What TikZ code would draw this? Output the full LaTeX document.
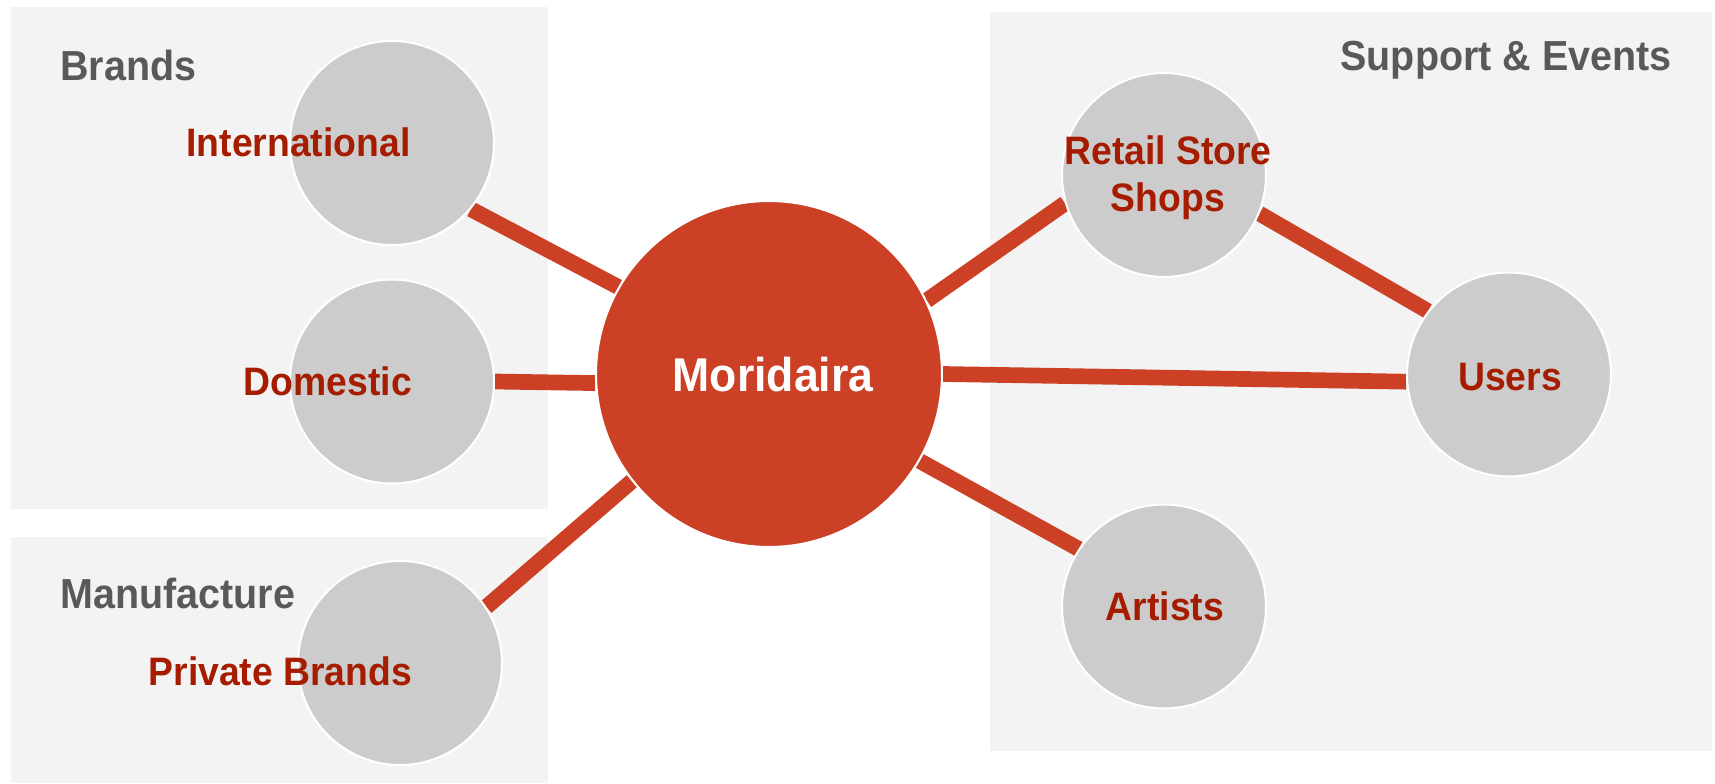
\documentclass[tikz,border=0pt]{standalone}
\usepackage{fontspec}
\setmainfont{Liberation Sans}[FakeStretch=0.94]
\usepackage{tikz}
\usetikzlibrary{calc}
\usepackage{color}
\definecolor{panelgray}{RGB}{243, 243, 243}
\definecolor{bubblegray}{RGB}{204, 204, 204}
\definecolor{moridairared}{RGB}{204, 65, 37}
\definecolor{labelred}{RGB}{166, 28, 0}
\definecolor{headgray}{RGB}{89, 89, 89}
\pgfdeclarelayer{panels}
\pgfdeclarelayer{links}
\pgfsetlayers{panels,links,main}

\begin{document}
\begin{tikzpicture}[x=0.02cm, y=-0.02cm,
        panel/.style={fill=panelgray, draw=none},
        bubble/.style={circle, fill=bubblegray, draw=white, line width=0.04cm, minimum size=4.08cm, inner sep=0pt},
        hub/.style={circle, fill=moridairared, draw=white, line width=0.04cm, minimum size=6.92cm, inner sep=0pt},
        link/.style={moridairared, line width=0.314cm},
        heading/.style={inner sep=0pt, text=headgray, font=\fontsize{23.9}{28}\selectfont\bfseries},
        tag/.style={anchor=base, inner sep=0pt, text=labelred, align=center, font=\fontsize{22.6}{27}\selectfont\bfseries}]
            % Frame to fix the page size
            \useasboundingbox                                                 (0, 0) rectangle (1715, 784);
            % Panels
            \begin{pgfonlayer}{panels}
            \fill[panel]                                                      (11, 7) rectangle (548, 509);
            \fill[panel]                                                      (11, 537) rectangle (548, 783);
            \fill[panel]                                                      (990, 12) rectangle (1712, 751);
            \end{pgfonlayer}
            \node[heading, anchor=base west] (brandshead)                     at (60, 81) {Brands};
            \node[heading, anchor=base west] (manuhead)                       at (60, 608.3) {Manufacture};
            \node[heading, anchor=base east] (supporthead)                    at (1672, 71) {Support \& Events};
            % Bubbles
            \node[bubble] (intl)                                              at (392, 143) {};
            \node[bubble] (dom)                                               at (392, 381.5) {};
            \node[bubble] (priv)                                              at (400, 663) {};
            \node[hub]    (mor)                                               at (769, 374) {};
            \node[bubble] (retail)                                            at (1164, 175) {};
            \node[bubble] (users)                                             at (1509, 374.5) {};
            \node[bubble] (artists)                                           at (1164, 606.5) {};
            % Labels
            \node[tag] (intltext)                                             at (298.5, 156.7) {International};
            \node[tag] (domtext)                                              at (328, 395) {Domestic};
            \node[tag] (privtext)                                             at (280.4, 685) {Private Brands};
            \node[tag, text=white, font=\fontsize{27}{32}\selectfont\bfseries] (mortext) at (773, 391.7) {Moridaira};
            \node[tag] (retailtext)                                           at (1168, 211.7) {Retail Store\\Shops};
            \node[tag] (userstext)                                            at (1510, 390) {Users};
            \node[tag] (artiststext)                                          at (1165, 620) {Artists};
            % Links
            \begin{pgfonlayer}{links}
            \draw[link] (intl.-40.4)     -- (mor.150.9);
            \draw[link] (dom.-0.7)       -- (mor.183);
            \draw[link] (priv.33.1)      -- (mor.-142.8);
            \draw[link] (mor.25.6)       -- (retail.196.1);
            \draw[link] (retail.-22.5)   -- (users.142.4);
            \draw[link] (mor.-0.9)       -- (users.184.2);
            \draw[link] (mor.-30.1)      -- (artists.146.7);
            \end{pgfonlayer}
        \end{tikzpicture}
\end{document}
